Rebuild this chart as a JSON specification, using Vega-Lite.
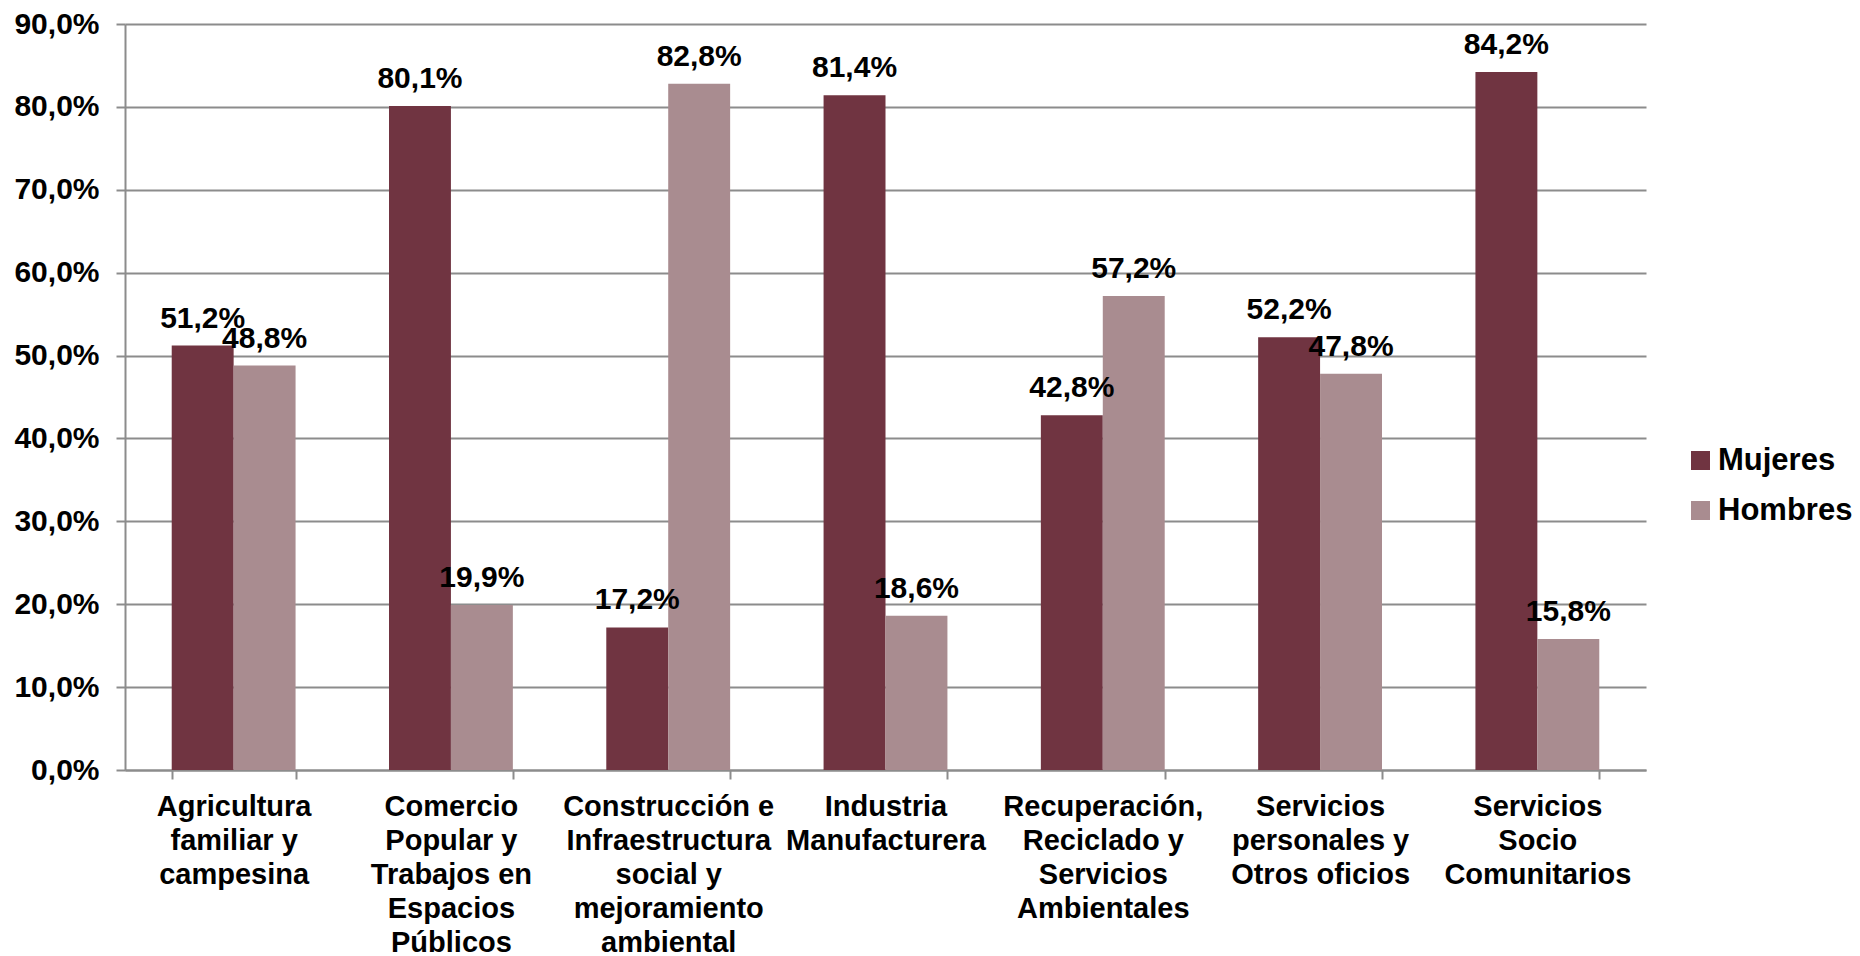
{
  "$schema": "https://vega.github.io/schema/vega-lite/v6.json",
  "autosize": {"type": "none"},
  "width": 1521,
  "height": 746,
  "padding": {"left": 125, "top": 24, "right": 214, "bottom": 186},
  "background": "white",
  "config": {
    "locale": {"number": {"decimal": ",", "thousands": ".", "grouping": [3], "currency": ["", " €"]}},
    "view": {"stroke": null},
    "font": "Liberation Sans"
  },
  "data": {
    "values": [
      {"sector": "Agricultura|familiar y|campesina", "sexo": "Mujeres", "valor": 0.512},
      {"sector": "Agricultura|familiar y|campesina", "sexo": "Hombres", "valor": 0.488},
      {"sector": "Comercio|Popular y|Trabajos en|Espacios|Públicos", "sexo": "Mujeres", "valor": 0.801},
      {"sector": "Comercio|Popular y|Trabajos en|Espacios|Públicos", "sexo": "Hombres", "valor": 0.199},
      {"sector": "Construcción e|Infraestructura|social y|mejoramiento|ambiental", "sexo": "Mujeres", "valor": 0.172},
      {"sector": "Construcción e|Infraestructura|social y|mejoramiento|ambiental", "sexo": "Hombres", "valor": 0.828},
      {"sector": "Industria|Manufacturera", "sexo": "Mujeres", "valor": 0.814},
      {"sector": "Industria|Manufacturera", "sexo": "Hombres", "valor": 0.186},
      {"sector": "Recuperación,|Reciclado y|Servicios|Ambientales", "sexo": "Mujeres", "valor": 0.428},
      {"sector": "Recuperación,|Reciclado y|Servicios|Ambientales", "sexo": "Hombres", "valor": 0.572},
      {"sector": "Servicios|personales y|Otros oficios", "sexo": "Mujeres", "valor": 0.522},
      {"sector": "Servicios|personales y|Otros oficios", "sexo": "Hombres", "valor": 0.478},
      {"sector": "Servicios|Socio|Comunitarios", "sexo": "Mujeres", "valor": 0.842},
      {"sector": "Servicios|Socio|Comunitarios", "sexo": "Hombres", "valor": 0.158}
    ]
  },
  "encoding": {
    "x": {
      "field": "sector", "type": "nominal", "sort": null, "title": null,
      "scale": {"paddingInner": 0.43, "paddingOuter": 0.215},
      "axis": {
        "labelAngle": 0,
        "labelExpr": "split(datum.label, '|')",
        "labelFont": "Liberation Sans", "labelFontWeight": "bold", "labelFontSize": 29,
        "labelColor": "black", "labelLineHeight": 34, "labelPadding": 13,
        "labelLimit": 0, "labelOverlap": false, "labelBound": false,
        "labelBaseline": "top",
        "tickBand": "extent", "tickSize": 9, "tickColor": "#8c8c8c", "tickWidth": 2,
        "domainColor": "#8c8c8c", "domainWidth": 2, "grid": false
      }
    },
    "xOffset": {"field": "sexo", "type": "nominal", "sort": ["Mujeres", "Hombres"], "scale": {"paddingInner": 0, "paddingOuter": 0}},
    "y": {
      "field": "valor", "type": "quantitative", "title": null,
      "scale": {"domain": [0, 0.9], "nice": false},
      "axis": {
        "values": [0, 0.1, 0.2, 0.3, 0.4, 0.5, 0.6, 0.7, 0.8, 0.9],
        "format": ".1%",
        "labelFont": "Liberation Sans", "labelFontWeight": "bold", "labelFontSize": 30,
        "labelColor": "black", "labelPadding": 17,
        "tickSize": 9, "tickColor": "#8c8c8c", "tickWidth": 2,
        "domainColor": "#8c8c8c", "domainWidth": 2,
        "grid": true, "gridColor": "#8c8c8c", "gridWidth": 2
      }
    }
  },
  "layer": [
    {
      "mark": {"type": "bar"},
      "encoding": {
        "color": {
          "field": "sexo", "type": "nominal", "sort": ["Mujeres", "Hombres"],
          "scale": {"domain": ["Mujeres", "Hombres"], "range": ["#703441", "#a98c90"]},
          "legend": {
            "title": null, "orient": "none", "legendX": 1560, "legendY": 421,
            "symbolType": "square", "symbolSize": 361, "symbolStrokeWidth": 0,
            "labelFont": "Liberation Sans", "labelFontWeight": "bold", "labelFontSize": 31,
            "labelColor": "black", "labelOffset": 2, "rowPadding": 18, "padding": 0
          }
        }
      }
    },
    {
      "mark": {"type": "text", "baseline": "alphabetic", "dy": -18, "font": "Liberation Sans", "fontWeight": "bold", "fontSize": 30, "color": "black"},
      "encoding": {
        "text": {"field": "valor", "type": "quantitative", "format": ".1%"}
      }
    }
  ]
}
